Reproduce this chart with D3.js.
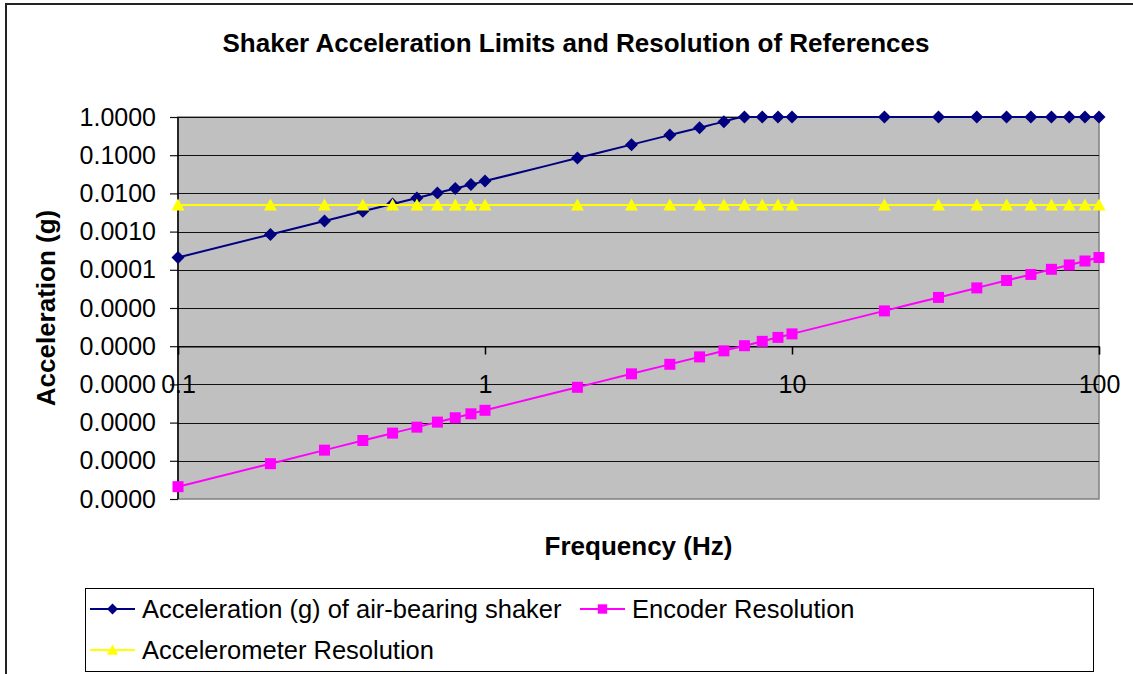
<!DOCTYPE html>
<html>
<head>
<meta charset="utf-8">
<script src="https://cdn.jsdelivr.net/npm/d3@7"></script>
<style>
  body { margin: 0; background: #fff; }
  svg { display: block; font-family: "Liberation Sans", Arial, sans-serif; }
</style>
</head>
<body>
<script>
var width = 1133,
    height = 674;

// frequencies (Hz) shared by all three series
var freqs = [0.1, 0.2, 0.3, 0.4, 0.5, 0.6, 0.7, 0.8, 0.9, 1,
             2, 3, 4, 5, 6, 7, 8, 9, 10,
             20, 30, 40, 50, 60, 70, 80, 90, 100];

// Acceleration (g) of air-bearing shaker
var shaker = [0.00021, 0.00084, 0.0019, 0.0034, 0.0053, 0.0076, 0.0103, 0.0134, 0.017, 0.021,
              0.084, 0.189, 0.336, 0.525, 0.756, 1, 1, 1, 1,
              1, 1, 1, 1, 1, 1, 1, 1, 1];

// Encoder Resolution
var encoder = [2.1e-10, 8.4e-10, 1.9e-9, 3.4e-9, 5.3e-9, 7.6e-9, 1.03e-8, 1.34e-8, 1.7e-8, 2.1e-8,
               8.4e-8, 1.89e-7, 3.36e-7, 5.25e-7, 7.56e-7, 1.03e-6, 1.34e-6, 1.7e-6, 2.1e-6,
               8.4e-6, 1.89e-5, 3.36e-5, 5.25e-5, 7.56e-5, 1.03e-4, 1.34e-4, 1.7e-4, 2.1e-4];

// Accelerometer Resolution
var accel = [0.005, 0.005, 0.005, 0.005, 0.005, 0.005, 0.005, 0.005, 0.005, 0.005,
             0.005, 0.005, 0.005, 0.005, 0.005, 0.005, 0.005, 0.005, 0.005,
             0.005, 0.005, 0.005, 0.005, 0.005, 0.005, 0.005, 0.005, 0.005];

var xTicks = [0.1, 1, 10, 100];
var yTicks = [1, 1e-1, 1e-2, 1e-3, 1e-4, 1e-5, 1e-6, 1e-7, 1e-8, 1e-9, 1e-10];

var series = [
  {name: 'Acceleration (g) of air-bearing shaker', values: shaker, color: '#000080', marker: 'diamond'},
  {name: 'Encoder Resolution', values: encoder, color: '#FF00FF', marker: 'square'},
  {name: 'Accelerometer Resolution', values: accel, color: '#FFFF00', marker: 'triangle'}
];

var plot = {left: 178, right: 1099, top: 117, bottom: 499};

var svg = d3.select('body')
      .append('svg')
      .attr('width', width)
      .attr('height', height);

// chart area border (runs off the right and bottom of the picture)
svg.append('rect')
  .attr('x', 6)
  .attr('y', 4)
  .attr('width', width + 20)
  .attr('height', height + 20)
  .style('fill', '#fff')
  .style('stroke', '#222')
  .style('stroke-width', 2);

var xScale = d3.scaleLog()
  .domain([0.1, 100])
  .range([plot.left, plot.right]);

var yScale = d3.scaleLog()
  .domain([1e-10, 1])
  .range([plot.bottom, plot.top]);

svg.append('rect')
  .attr('x', plot.left)
  .attr('y', plot.top)
  .attr('width', plot.right - plot.left)
  .attr('height', plot.bottom - plot.top)
  .style('fill', '#C0C0C0')
  .style('stroke', '#808080')
  .style('stroke-width', 1.5);

// horizontal gridlines
svg.append('g')
  .selectAll('line')
  .data(yTicks.slice(0, -1))
  .enter()
  .append('line')
  .attr('x1', plot.left)
  .attr('x2', plot.right)
  .attr('y1', (d) => Math.round(yScale(d)) + 0.5)
  .attr('y2', (d) => Math.round(yScale(d)) + 0.5)
  .style('stroke', '#111')
  .style('stroke-width', 1.2);

// y axis
var yAxis = d3.axisLeft(yScale)
  .tickValues(yTicks)
  .tickFormat(d3.format('.4f'))
  .tickSize(8)
  .tickPadding(14);

svg.append('g')
  .attr('transform', 'translate(' + plot.left + ',0)')
  .call(yAxis)
  .call((g) => g.select('.domain').remove())
  .call((g) => g.selectAll('line').style('stroke', '#111').style('stroke-width', 1.2))
  .call((g) => g.selectAll('text').style('font-size', '25px').style('fill', '#000')
    .attr('font-family', null));

svg.append('line')
  .attr('x1', plot.left)
  .attr('x2', plot.left)
  .attr('y1', plot.top)
  .attr('y2', plot.bottom)
  .style('stroke', '#000')
  .style('stroke-width', 1.5);

// x axis crosses at 1e-6
var xAxis = d3.axisBottom(xScale)
  .tickValues(xTicks)
  .tickFormat((d) => String(d))
  .tickSize(8)
  .tickPadding(21);

svg.append('g')
  .attr('transform', 'translate(0,' + (Math.round(yScale(1e-6)) + 0.5) + ')')
  .call(xAxis)
  .call((g) => g.select('.domain').style('stroke', '#000').style('stroke-width', 1.2))
  .call((g) => g.selectAll('line').style('stroke', '#000').style('stroke-width', 1.5))
  .call((g) => g.selectAll('text').style('font-size', '25px').style('fill', '#000')
    .attr('font-family', null));

var line = d3.line()
  .x((d) => xScale(d[0]))
  .y((d) => yScale(d[1]))
  .curve(d3.curveMonotoneX);

var markerPath = {
  diamond: 'M0,-6.5L6.5,0L0,6.5L-6.5,0Z',
  square: 'M-5.5,-5.5L5.5,-5.5L5.5,5.5L-5.5,5.5Z',
  triangle: 'M0,-6.5L6.5,5.5L-6.5,5.5Z'
};

series.forEach((s) => {
  var pts = freqs.map((f, i) => [f, s.values[i]]);
  var g = svg.append('g');
  g.append('path')
    .datum(pts)
    .attr('d', line)
    .style('fill', 'none')
    .style('stroke', s.color)
    .style('stroke-width', 2);
  g.selectAll('path.mark')
    .data(pts)
    .enter()
    .append('path')
    .attr('class', 'mark')
    .attr('d', markerPath[s.marker])
    .attr('transform', (d) => 'translate(' + xScale(d[0]) + ',' + yScale(d[1]) + ')')
    .style('fill', s.color);
});

svg.append('text')
  .attr('x', 576)
  .attr('y', 52)
  .attr('text-anchor', 'middle')
  .style('font-size', '26px')
  .style('font-weight', 'bold')
  .text('Shaker Acceleration Limits and Resolution of References');

svg.append('text')
  .attr('transform', 'translate(55,' + ((plot.top + plot.bottom) / 2) + ') rotate(-90)')
  .attr('text-anchor', 'middle')
  .style('font-size', '26px')
  .style('font-weight', 'bold')
  .text('Acceleration (g)');

svg.append('text')
  .attr('x', (plot.left + plot.right) / 2)
  .attr('y', 555)
  .attr('text-anchor', 'middle')
  .style('font-size', '26px')
  .style('font-weight', 'bold')
  .text('Frequency (Hz)');

// legend
svg.append('rect')
  .attr('x', 85.5)
  .attr('y', 588.5)
  .attr('width', 1008)
  .attr('height', 83)
  .style('fill', '#fff')
  .style('stroke', '#000')
  .style('stroke-width', 1);

var legendPos = [[90, 609], [580, 609], [90, 650]];

series.forEach((s, i) => {
  var p = legendPos[i];
  var lg = svg.append('g').attr('transform', 'translate(' + p[0] + ',' + p[1] + ')');
  lg.append('line')
    .attr('x1', 0)
    .attr('x2', 45)
    .style('stroke', s.color)
    .style('stroke-width', 2);
  lg.append('path')
    .attr('d', markerPath[s.marker])
    .attr('transform', 'translate(22.5,0) scale(0.85)')
    .style('fill', s.color);
  lg.append('text')
    .attr('x', 52)
    .attr('y', 9)
    .style('font-size', '25.5px')
    .text(s.name);
});
</script>
</body>
</html>
